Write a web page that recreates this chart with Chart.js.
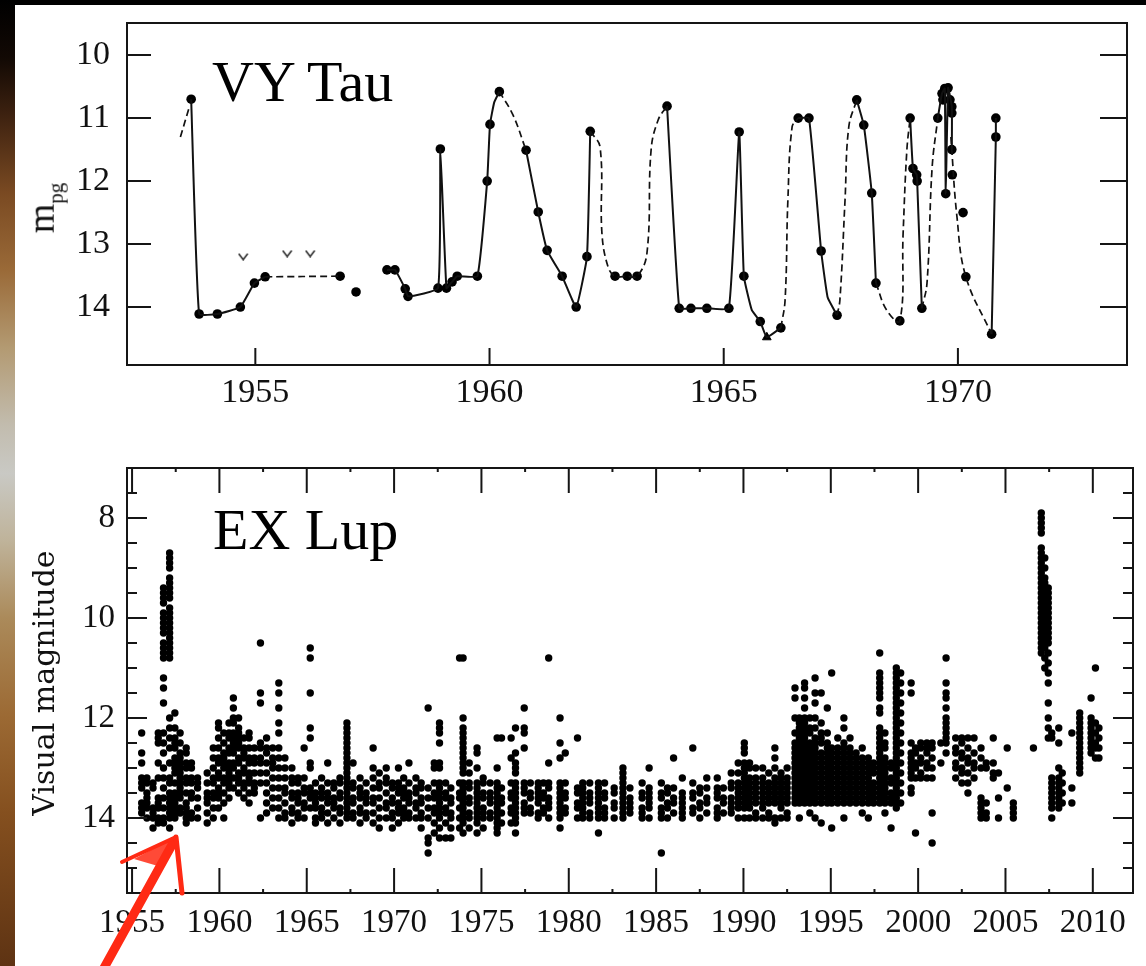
<!DOCTYPE html>
<html>
<head>
<meta charset="utf-8">
<title>VY Tau / EX Lup light curves</title>
<script src="https://cdn.jsdelivr.net/npm/chart.js@4.4.1/dist/chart.umd.min.js"></script>
<style>
  html, body { margin: 0; padding: 0; background: #000; }
  body { width: 1146px; height: 966px; position: relative; overflow: hidden; }
  #strip {
    position: absolute; left: 0; top: 0; width: 15px; height: 966px;
    background: linear-gradient(to bottom, #000 0%, #120904 6%, #3e2210 12%, #7a4a22 20%, #9a6a38 28%,
      #b39a72 36%, #c2bcae 44%, #c9c9c4 49%, #bfb39a 56%, #ab8a5a 64%, #9c6a34 74%, #85501f 84%, #5e3313 100%);
  }
  #paper { position: absolute; left: 15px; top: 5px; width: 1131px; height: 961px; background: #fff; }
  .box { position: absolute; left: 15px; width: 1131px; }
  #topBox { top: 5px; height: 440px; }
  #botBox { top: 450px; height: 516px; }
  .title { position: absolute; font-family: "Liberation Serif", serif; font-size: 58px; line-height: 1; color: #000; }
  .ylab { position: absolute; transform: translate(-50%, -50%) rotate(-90deg); white-space: nowrap; line-height: 1; color: #111; }
  #arrow { position: absolute; left: 0; top: 0; pointer-events: none; }
</style>
</head>
<body>
<div id="strip"></div>
<div id="paper"></div>
<div class="box" id="topBox"><canvas id="vyChart"></canvas></div>
<div class="box" id="botBox"><canvas id="exChart"></canvas></div>

<div class="title" style="left:212px; top:53px;">VY Tau</div>
<div class="title" style="left:213px; top:501px;">EX Lup</div>
<div class="ylab" style="left:44px; top:208px; font-family:'Liberation Serif', serif; font-size:38px;">m<sub style="font-size:21px;">pg</sub></div>
<div class="ylab" style="left:44px; top:683px; font-family:'DejaVu Serif', serif; font-size:30px;">Visual magnitude</div>

<svg id="arrow" width="1146" height="966">
  <polygon points="176,837 134,859 158,866" fill="#ff2a14" opacity="0.85"/>
  <path d="M 104 968 L 173 843" stroke="#ff2a14" stroke-width="9" stroke-linecap="round" fill="none"/>
  <path d="M 176 837 L 122 862" stroke="#ff2a14" stroke-width="4" stroke-linecap="round" fill="none"/>
  <path d="M 176 837 L 182 893" stroke="#ff2a14" stroke-width="5" stroke-linecap="round" fill="none"/>
</svg>

<script>
// ---- VY Tau (top panel) ----
const vyDotYear = [1953.63, 1953.80, 1954.19, 1954.68, 1954.98, 1955.21, 1956.81, 1957.15, 1957.81, 1957.98,
  1958.20, 1958.26, 1958.90, 1958.95, 1959.08, 1959.20, 1959.31, 1959.74, 1959.95, 1960.01,
  1960.21, 1960.78, 1961.04, 1961.23, 1961.55, 1961.85, 1962.08, 1962.15, 1962.68, 1962.94,
  1963.15, 1963.79, 1964.05, 1964.30, 1964.64, 1965.11, 1965.33, 1965.43, 1965.78, 1966.22,
  1966.59, 1966.82, 1967.08, 1967.42, 1967.84, 1967.99, 1968.16, 1968.25, 1968.76, 1968.98,
  1969.04, 1969.12, 1969.13, 1969.23, 1969.57, 1969.66, 1969.68, 1969.72, 1969.74, 1969.79,
  1969.83, 1969.87, 1969.87, 1969.87, 1969.88, 1970.11, 1970.17, 1970.72, 1970.81, 1970.81];
const vyDotMag = [10.70, 14.11, 14.11, 14.00, 13.62, 13.52, 13.51, 13.76, 13.41, 13.41,
  13.71, 13.83, 13.70, 11.49, 13.70, 13.60, 13.51, 13.51, 12.00, 11.10,
  10.58, 11.51, 12.49, 13.10, 13.51, 14.00, 13.20, 11.21, 13.51, 13.51,
  13.51, 10.81, 14.02, 14.02, 14.02, 14.02, 11.22, 13.51, 14.23, 14.33,
  11.00, 11.00, 13.11, 14.13, 10.71, 11.11, 12.19, 13.62, 14.22, 11.00,
  11.80, 11.90, 12.00, 14.02, 11.00, 10.61, 10.71, 10.53, 12.20, 10.52,
  10.71, 10.82, 10.92, 11.50, 11.90, 12.50, 13.52, 14.43, 11.30, 11.00];

// solid connecting curve (null = break)
const vySolidYear = [1953.63, 1953.80, 1954.19, 1954.68, 1954.98, 1955.21, null,
  1957.81, 1957.98, 1958.20, 1958.26, 1958.90, 1958.95, 1959.08, 1959.20, 1959.31, 1959.74, 1959.95, 1960.01, 1960.10, 1960.21, null,
  1960.78, 1961.04, 1961.23, 1961.55, 1961.85, 1962.08, 1962.15, null,
  1963.79, 1964.05, 1964.30, 1964.64, 1965.11, 1965.33, 1965.43, 1965.60, 1965.78, 1965.92, 1966.22, null,
  1966.59, 1966.82, 1967.08, 1967.22, 1967.42, null,
  1967.84, 1967.99, 1968.16, 1968.25, null,
  1968.98, 1969.04, 1969.12, 1969.13, 1969.23, null,
  1969.57, 1969.66, 1969.72, 1969.74, 1969.79, 1969.87, 1969.87, null,
  1970.72, 1970.81, 1970.81];
const vySolidMag = [10.70, 14.11, 14.11, 14.00, 13.62, 13.52, null,
  13.41, 13.41, 13.71, 13.83, 13.70, 11.49, 13.70, 13.60, 13.51, 13.51, 12.00, 11.10, 10.75, 10.58, null,
  11.51, 12.49, 13.10, 13.51, 14.00, 13.20, 11.21, null,
  10.81, 14.02, 14.02, 14.02, 14.02, 11.22, 13.51, 14.05, 14.23, 14.48, 14.33, null,
  11.00, 11.00, 13.11, 13.85, 14.13, null,
  10.71, 11.11, 12.19, 13.62, null,
  11.00, 11.80, 11.90, 12.00, 14.02, null,
  11.00, 10.61, 10.53, 12.20, 10.52, 10.82, 11.50, null,
  14.43, 11.30, 11.00];

// dashed (gap-bridging) curve
const vyDashYear = [1953.40, 1953.58, null,
  1955.21, 1956.81, null,
  1960.21, 1960.50, 1960.78, null,
  1962.15, 1962.36, 1962.40, 1962.53, 1962.68, 1962.94, 1963.15, 1963.36, 1963.45, 1963.60, 1963.79, null,
  1966.22, 1966.31, 1966.37, 1966.46, 1966.59, null,
  1967.42, 1967.48, 1967.59, 1967.67, 1967.84, null,
  1968.25, 1968.48, 1968.76, 1968.83, 1968.91, 1968.98, null,
  1969.23, 1969.34, 1969.45, 1969.57, null,
  1969.85, 1969.98, 1970.17, 1970.72];
const vyDashMag = [11.30, 10.85, null,
  13.52, 13.51, null,
  10.58, 10.95, 11.51, null,
  11.21, 11.46, 12.83, 13.36, 13.51, 13.51, 13.51, 13.15, 11.50, 11.03, 10.81, null,
  14.33, 13.89, 12.30, 11.14, 11.00, null,
  14.13, 13.89, 12.30, 11.14, 10.71, null,
  13.62, 14.05, 14.22, 12.83, 11.51, 11.00, null,
  14.02, 13.62, 11.78, 11.00, null,
  11.30, 12.57, 13.52, 14.43];

const vyLimitYear = [1954.74, 1955.68, 1956.17];
const vyLimitMag = [13.20, 13.15, 13.15];
const vyTriYear = [1965.92];
const vyTriMag = [14.48];

const vyXTicks = [1955, 1960, 1965, 1970];
const vyYTicks = [10, 11, 12, 13, 14];

// ---- EX Lup (bottom panel): "year|magnitudes" per observing column ----
const exCols1950s = [
  "1955.55|12.3 12.7 12.9 13.2 13.3 13.4 13.7 13.8 13.9",
  "1955.85|13.2 13.3 13.5 13.6 13.7 13.8 14.0",
  "1956.2|13.3 13.4 13.8 13.9 14.0 14.2",
  "1956.5|12.3 12.4 12.5 12.9 13.2 13.6 13.7 13.8 14.0 14.1",
  "1956.8|9.4 9.5 9.6 9.7 9.9 10.0 10.1 10.2 10.3 10.5 10.6 10.7 10.8 11.2 11.4 11.7 12.3 12.5 12.7 13.0 13.2 13.4 13.6 13.8 14.0 14.1",
  "1957.15|8.7 8.8 8.9 9.0 9.2 9.3 9.4 9.5 9.6 9.8 9.9 10.0 10.1 10.2 10.3 10.4 10.5 10.6 10.7 10.8 12.0 12.2 12.4 12.6 12.9 13.2 13.3 13.5 13.6 13.7 13.8 13.9 14.0 14.2",
  "1957.45|11.9 12.2 12.4 12.5 12.6 12.8 12.9 13.0 13.1 13.3 13.5 13.6 13.7 13.8 13.9 14.0",
  "1957.75|12.3 12.5 12.7 12.8 12.9 13.0 13.1 13.2 13.3 13.4 13.5 13.6 13.8 13.9",
  "1958.1|12.6 12.7 12.9 13.0 13.2 13.3 13.5 13.7 13.8 13.9 14.0 14.1",
  "1958.4|12.9 13.0 13.2 13.3 13.5 13.6 13.9 14.0",
  "1958.75|13.2 13.3 13.4 13.6 13.8 14.0",
  "1959.3|13.1 13.3 13.5 13.6 13.7 13.9 14.1",
  "1959.65|12.6 12.8 13.0 13.2 13.3 13.5 13.6 13.8 14.0",
  "1959.95|12.1 12.2 12.4 12.6 12.8 12.9 13.1 13.2 13.4 13.5 13.6 13.8"
];
const exCols1960s = [
  "1960.25|12.3 12.5 12.7 12.8 12.9 13.0 13.2 13.3 13.5 13.7 14.0",
  "1960.55|12.1 12.3 12.4 12.6 12.7 12.9 13.0 13.1 13.2 13.3 13.4 13.6",
  "1960.8|11.6 11.8 12.0 12.1 12.3 12.4 12.5 12.6 12.7 12.9 13.0 13.2 13.4",
  "1961.1|12.0 12.2 12.3 12.4 12.5 12.6 12.8 12.9 13.1 13.2 13.3 13.5",
  "1961.4|12.4 12.6 12.7 12.8 13.0 13.1 13.3 13.4 13.6",
  "1961.7|12.3 12.4 12.6 12.8 12.9 13.1 13.2 13.3 13.5 13.7",
  "1962.0|12.6 12.8 12.9 13.1 13.3 13.4 13.5",
  "1962.35|10.5 11.5 11.7 12.5 12.6 12.8 12.9 13.1 13.3 14.0",
  "1962.7|12.4 12.6 12.7 12.9 13.1 13.3 13.5 13.7 13.9",
  "1963.05|12.6 12.8 12.9 13.0 13.2 13.4 13.6 13.8",
  "1963.4|11.3 11.5 11.8 12.1 12.3 12.6 12.8 13.0 13.2 13.4 13.6 13.8 14.0",
  "1963.75|12.8 13.0 13.2 13.4 13.5 13.7 13.9 14.0",
  "1964.15|13.0 13.2 13.3 13.5 13.6 13.8 13.9 14.1",
  "1964.5|13.2 13.3 13.5 13.6 13.7 13.9 14.0",
  "1964.85|12.6 13.2 13.4 13.5 13.7 13.8 14.0",
  "1965.2|10.6 10.8 11.5 12.2 12.4 12.9 13.0 13.4 13.5 13.6 13.8",
  "1965.5|13.3 13.5 13.6 13.7 13.8 14.0 14.1",
  "1965.85|13.2 13.4 13.5 13.6 13.8 13.9 14.0",
  "1966.2|12.9 13.3 13.5 13.6 13.7 13.9 14.1",
  "1966.55|13.3 13.4 13.6 13.7 13.8 14.0",
  "1966.9|13.2 13.3 13.5 13.6 13.8 13.9 14.1",
  "1967.3|12.1 12.2 12.3 12.4 12.5 12.6 12.7 12.8 12.9 13.0 13.1 13.2 13.3 13.4 13.5 13.6 13.7 13.8 13.9 14.0",
  "1967.65|12.9 13.3 13.4 13.6 13.7 13.9 14.0",
  "1968.05|13.2 13.4 13.5 13.6 13.8 13.9 14.1",
  "1968.4|13.3 13.5 13.6 13.7 13.9 14.0",
  "1968.8|12.6 13.0 13.2 13.4 13.6 13.7 13.9 14.1",
  "1969.15|13.1 13.3 13.4 13.6 13.8 14.0 14.2",
  "1969.55|13.0 13.2 13.3 13.5 13.7 13.8 14.0",
  "1969.9|13.3 13.4 13.6 13.7 13.9 14.0 14.2"
];
const exCols1970s = [
  "1970.25|13.0 13.3 13.4 13.5 13.7 13.8 13.9 14.1",
  "1970.55|13.2 13.4 13.5 13.6 13.8 13.9 14.0",
  "1970.85|12.9 13.3 13.5 13.6 13.7 13.9 14.0",
  "1971.25|13.2 13.4 13.5 13.7 13.8 14.0",
  "1971.55|13.3 13.4 13.6 13.7 13.9 14.0 14.2",
  "1971.95|11.8 13.4 13.6 13.8 14.0 14.4 14.5 14.7",
  "1972.3|12.9 13.0 13.3 13.5 13.6 13.8 13.9 14.1 14.3",
  "1972.6|12.1 12.2 12.3 12.5 12.9 13.0 13.3 13.4 13.5 13.6 13.7 13.8 13.9 14.0 14.2 14.4",
  "1972.95|13.3 13.5 13.6 13.8 13.9 14.1 14.4",
  "1973.25|13.4 13.6 13.7 13.9 14.0 14.2 14.4",
  "1973.75|10.8 13.3 13.5 13.6 13.8 14.0 14.2",
  "1973.95|10.8 12.0 12.2 12.3 12.4 12.5 12.6 12.7 12.8 12.9 13.0 13.1 13.3 13.4 13.5 13.6 13.7 13.8 13.9 14.0 14.1 14.3",
  "1974.3|12.9 13.1 13.3 13.4 13.6 13.7 13.9 14.0 14.2",
  "1974.75|12.6 12.7 13.0 13.3 13.4 13.5 13.6 13.7 13.8 13.9 14.0 14.1 14.3",
  "1975.1|13.2 13.3 13.5 13.6 13.8 13.9 14.0 14.2",
  "1975.5|13.3 13.5 13.6 13.7 13.9 14.0",
  "1975.9|12.4 13.0 13.3 13.4 13.5 13.6 13.7 13.8 13.9 14.0 14.1 14.2 14.3",
  "1976.15|12.4 13.4 13.6 13.7 13.9 14.1",
  "1976.7|12.4 12.8 13.3 13.5 13.6 13.8 13.9 14.1",
  "1976.95|12.2 12.7 12.9 13.0 13.1 13.3 13.4 13.5 13.6 13.7 13.8 13.9 14.0 14.1 14.3",
  "1977.45|11.8 12.2 12.3 12.6 13.3 13.4 13.5 13.7 13.8 13.9",
  "1977.8|13.3 13.5 13.6 13.8 13.9",
  "1978.25|13.3 13.4 13.5 13.6 13.7 13.9 14.0",
  "1978.55|13.3 13.5 13.6 13.8 13.9",
  "1978.85|10.8 12.9 13.3 13.4 13.6 13.7 13.8 14.0",
  "1979.5|12.0 12.5 12.8 13.3 13.4 13.5 13.6 13.7 13.8 13.9 14.0 14.2",
  "1979.8|12.7 13.3 13.5 13.6 13.8 13.9"
];
const exCols1980s = [
  "1980.5|12.4 13.4 13.5 13.7 13.8 14.0",
  "1980.8|13.3 13.4 13.5 13.6 13.7 13.8 13.9 14.0",
  "1981.2|13.3 13.5 13.6 13.7 13.9 14.0",
  "1981.7|13.3 13.4 13.5 13.6 13.7 13.8 13.9 14.0 14.3",
  "1982.05|13.3 13.5 13.6 13.8 13.9 14.0",
  "1982.6|13.4 13.5 13.7 13.8 14.0",
  "1983.1|13.0 13.1 13.2 13.3 13.4 13.5 13.6 13.7 13.8 13.9 14.0",
  "1983.5|13.4 13.6 13.7 13.8 13.9",
  "1984.2|13.3 13.5 13.6 13.8 13.9 14.0",
  "1984.6|13.0 13.4 13.5 13.6 13.7 13.8 14.0",
  "1985.3|13.3 13.5 13.6 13.8 13.9 14.0 14.7",
  "1985.65|13.4 13.5 13.7 13.8 14.0",
  "1986.0|12.8 13.4 13.6 13.7 13.9",
  "1986.5|13.2 13.5 13.6 13.7 13.8 13.9 14.0",
  "1987.1|12.6 13.3 13.5 13.6 13.8 13.9",
  "1987.5|13.4 13.5 13.7 13.8 14.0",
  "1987.9|13.2 13.4 13.6 13.7 13.9",
  "1988.5|13.2 13.4 13.5 13.6 13.8 13.9 14.0",
  "1988.85|13.4 13.6 13.7 13.9",
  "1989.3|13.1 13.3 13.4 13.6 13.7 13.8 13.9",
  "1989.7|12.9 13.1 13.3 13.4 13.5 13.6 13.7 13.8 14.0"
];
const exCols1990s = [
  "1990.05|12.5 12.6 12.7 12.9 13.0 13.1 13.2 13.3 13.4 13.5 13.6 13.7 13.8 14.0",
  "1990.35|12.9 13.0 13.2 13.3 13.4 13.5 13.6 13.7 13.8 14.0",
  "1990.7|13.0 13.2 13.3 13.4 13.5 13.6 13.7 13.9 14.0",
  "1991.1|13.0 13.2 13.3 13.4 13.5 13.6 13.7 13.8 14.0",
  "1991.45|13.1 13.3 13.4 13.5 13.6 13.7 13.9 14.0",
  "1991.8|12.6 12.8 13.0 13.2 13.3 13.4 13.5 13.6 13.7 14.0 14.1",
  "1992.15|13.1 13.2 13.3 13.4 13.5 13.6 13.7 13.8 14.0",
  "1992.5|13.0 13.2 13.3 13.4 13.5 13.6 13.7 13.9 14.0",
  "1992.95|11.4 11.6 12.0 12.3 12.5 12.6 12.7 12.8 12.9 13.0 13.1 13.2 13.3 13.4 13.5 13.6 13.7",
  "1993.2|12.0 12.1 12.2 12.3 12.4 12.5 12.6 12.7 12.8 12.9 13.0 13.1 13.2 13.3 13.4 13.5 13.6 13.7 14.0",
  "1993.5|11.3 11.4 11.6 11.8 12.0 12.1 12.2 12.3 12.4 12.5 12.6 12.7 12.8 12.9 13.0 13.1 13.2 13.3 13.4 13.5 13.6 13.7",
  "1993.8|12.0 12.2 12.3 12.5 12.6 12.7 12.8 12.9 13.0 13.1 13.2 13.3 13.4 13.5 13.6 13.7 13.9",
  "1994.1|11.2 11.5 11.7 12.0 12.2 12.4 12.5 12.6 12.7 12.8 12.9 13.0 13.1 13.2 13.3 13.4 13.5 13.6 13.7 14.0",
  "1994.45|11.5 12.1 12.3 12.4 12.5 12.7 12.8 12.9 13.0 13.1 13.2 13.3 13.4 13.5 13.6 13.7 14.1",
  "1994.8|11.8 12.3 12.5 12.6 12.7 12.8 12.9 13.0 13.1 13.2 13.3 13.4 13.5 13.6 13.7",
  "1995.05|11.1 12.6 12.7 12.8 12.9 13.0 13.1 13.2 13.3 13.4 13.5 13.6 13.7 14.2",
  "1995.4|12.4 12.6 12.7 12.8 12.9 13.0 13.1 13.2 13.3 13.4 13.5 13.6 13.7",
  "1995.75|12.0 12.2 12.5 12.6 12.7 12.8 12.9 13.0 13.1 13.2 13.3 13.4 13.5 13.6 13.7 14.0",
  "1996.1|12.4 12.6 12.7 12.8 12.9 13.0 13.1 13.2 13.3 13.4 13.5 13.6 13.7",
  "1996.45|12.7 12.8 12.9 13.0 13.1 13.2 13.3 13.4 13.5 13.6 13.7",
  "1996.8|12.6 12.8 12.9 13.0 13.1 13.2 13.3 13.4 13.5 13.6 13.7 13.9",
  "1997.15|12.8 12.9 13.0 13.1 13.2 13.3 13.4 13.5 13.6 13.7 14.0",
  "1997.45|12.9 13.0 13.1 13.3 13.4 13.5 13.6 13.7",
  "1997.8|10.7 11.1 11.2 11.3 11.4 11.5 11.6 11.8 11.9 12.2 12.3 12.4 12.5 12.6 12.7 12.8 12.9 13.0 13.1 13.2 13.3 13.4 13.5 13.6 13.7",
  "1998.1|12.3 12.5 12.6 12.8 12.9 13.0 13.1 13.2 13.3 13.4 13.5 13.6 13.7 13.9",
  "1998.45|12.9 13.0 13.2 13.3 13.5 13.6 13.7 14.2",
  "1998.75|11.0 11.1 11.2 11.3 11.4 11.5 11.6 11.7 11.8 11.9 12.0 12.1 12.2 12.3 12.4 12.5 12.6 12.7 12.8 12.9 13.0 13.1 13.2 13.3 13.4 13.5 13.6 13.7 13.8",
  "1999.0|11.1 11.3 11.5 11.7 11.9 12.1 12.3 12.5 12.7 12.9 13.1 13.3 13.5 13.7",
  "1999.6|11.3 11.5 12.5 12.7 12.8 12.9 13.0 13.1 13.2 13.4 13.5",
  "1999.85|12.6 12.7 12.9 13.0 13.2 14.3"
];
const exCols2000s = [
  "2000.15|12.5 12.6 12.8 12.9 13.1 13.2",
  "2000.5|12.5 12.6 12.7 12.9 13.0 13.2",
  "2000.8|12.5 12.6 12.8 13.0 13.2 13.9 14.5",
  "2001.3|12.5 12.9",
  "2001.6|10.8 11.3 11.5 11.6 11.8 12.0 12.1 12.2 12.3 12.4 12.5 12.7",
  "2002.15|12.4 12.6 12.7 12.9 13.0 13.2",
  "2002.5|12.4 12.5 12.7 12.8 13.0 13.1 13.3",
  "2002.85|12.4 12.6 12.8 12.9 13.1 13.3 13.5",
  "2003.2|12.4 12.7 12.9 13.0 13.2",
  "2003.6|12.6 12.8 13.0 13.6 13.7 13.8 13.9 14.0",
  "2003.9|12.9 13.0 13.7 13.9 14.0",
  "2004.3|12.4 12.9 13.1 13.2",
  "2004.6|13.1 13.6 14.0",
  "2005.1|12.6 13.4",
  "2005.45|13.7 13.8 13.9 14.0",
  "2006.6|12.6",
  "2007.05|7.9 8.0 8.1 8.2 8.3 8.6 8.7 8.8 8.9 9.0 9.1 9.2 9.3 9.4 9.5 9.6 9.7 9.8 9.9 10.0 10.1 10.2 10.3 10.4 10.5 10.6 10.7",
  "2007.25|8.8 9.0 9.2 9.3 9.4 9.5 9.6 9.7 9.8 9.9 10.0 10.1 10.2 10.3 10.4 10.5 10.6 10.8 11.0",
  "2007.45|9.4 9.5 9.6 9.7 9.8 9.9 10.0 10.1 10.2 10.3 10.4 10.5 10.7 10.9 11.1 11.3 11.7 12.0 12.2 12.4",
  "2007.65|12.3 12.4 13.2 13.3 13.4 13.5 13.6 13.7 13.8 14.0",
  "2008.05|12.2 12.5 13.0 13.2 13.3 13.4 13.5 13.6 13.7 13.8",
  "2008.25|13.1 13.3 13.5 13.7",
  "2008.8|12.3 13.4 13.7",
  "2009.25|11.9 12.0 12.1 12.2 12.3 12.4 12.5 12.6 12.7 12.8 12.9 13.0 13.1",
  "2009.9|11.6 12.0 12.1 12.2 12.3 12.4 12.5 12.6 12.7",
  "2010.15|11.0 12.1 12.3 12.5 12.6 12.8",
  "2010.35|12.2 12.4 12.6 12.8"
];

const exXMajor = [1955, 1960, 1965, 1970, 1975, 1980, 1985, 1990, 1995, 2000, 2005, 2010];
const exXMinor = [1957.5, 1962.5, 1967.5, 1972.5, 1977.5, 1982.5, 1987.5, 1992.5, 1997.5, 2002.5, 2007.5];
const exYMajor = [8, 10, 12, 14];
const exYMinor = [7.5, 8.5, 9, 9.5, 10.5, 11, 11.5, 12.5, 13, 13.5, 14.5, 15];

// ---- helpers ----
function zip(xs, ys) {
  return xs.map((x, i) => ({ x: x, y: ys[i] }));
}

function columnsToPoints(cols) {
  const pts = [];
  cols.forEach(c => {
    const [yr, mags] = c.split("|");
    mags.split(" ").forEach(m => pts.push({ x: Number(yr), y: Number(m) }));
  });
  return pts;
}

function vMarker() {
  const c = document.createElement("canvas");
  c.width = 11;
  c.height = 8;
  const g = c.getContext("2d");
  g.strokeStyle = "#111";
  g.lineWidth = 1.3;
  g.beginPath();
  g.moveTo(1, 1);
  g.lineTo(5.5, 7);
  g.lineTo(10, 1);
  g.stroke();
  return c;
}

// frame box plus inward tick marks
function makeFrame(cfg) {
  return {
    id: "frame",
    afterDraw(chart) {
      const ctx = chart.ctx;
      const a = chart.chartArea;
      const sx = chart.scales.x;
      const sy = chart.scales.y;
      ctx.save();
      ctx.strokeStyle = "#151515";
      ctx.lineWidth = 2;
      ctx.strokeRect(a.left, a.top, a.right - a.left, a.bottom - a.top);
      ctx.beginPath();
      cfg.x.forEach(t => {
        t.values.forEach(v => {
          const px = sx.getPixelForValue(v);
          if (t.bottom) { ctx.moveTo(px, a.bottom); ctx.lineTo(px, a.bottom - t.bottom); }
          if (t.top) { ctx.moveTo(px, a.top); ctx.lineTo(px, a.top + t.top); }
        });
      });
      cfg.y.forEach(t => {
        t.values.forEach(v => {
          const py = sy.getPixelForValue(v);
          if (t.left) { ctx.moveTo(a.left, py); ctx.lineTo(a.left + t.left, py); }
          if (t.right) { ctx.moveTo(a.right, py); ctx.lineTo(a.right - t.right, py); }
        });
      });
      ctx.stroke();
      ctx.restore();
    }
  };
}

function axisOpts(min, max, reverse, tickValues, fontSize, padding, fitSize) {
  return {
    type: "linear",
    min: min,
    max: max,
    reverse: reverse,
    grid: { display: false, drawTicks: false },
    border: { display: false },
    afterBuildTicks: axis => { axis.ticks = tickValues.map(v => ({ value: v })); },
    afterFit: axis => {
      if (axis.isHorizontal()) axis.height = fitSize; else axis.width = fitSize;
      // labels never reach the ends, so no extra room is needed
      axis.paddingTop = 0;
      axis.paddingBottom = 0;
      axis.paddingLeft = 0;
      axis.paddingRight = 0;
    },
    ticks: {
      color: "#111",
      padding: padding,
      font: { family: "'Liberation Serif', serif", size: fontSize },
      callback: v => String(v)
    }
  };
}

const baseOptions = {
  responsive: true,
  maintainAspectRatio: false,
  animation: false,
  events: [],
  plugins: { legend: { display: false }, tooltip: { enabled: false } }
};

function initCharts() {
  new Chart(document.getElementById("vyChart").getContext("2d"), {
    type: "scatter",
    data: {
      datasets: [
        {
          data: zip(vyDashYear, vyDashMag),
          showLine: true, borderColor: "#111", borderWidth: 1.7, borderDash: [7, 4],
          tension: 0.4, pointRadius: 0, spanGaps: false
        },
        {
          data: zip(vySolidYear, vySolidMag),
          showLine: true, borderColor: "#111", borderWidth: 2,
          tension: 0.12, pointRadius: 0, spanGaps: false
        },
        {
          data: zip(vyDotYear, vyDotMag),
          pointRadius: 4.8, pointBackgroundColor: "#000", pointBorderWidth: 0
        },
        {
          data: zip(vyLimitYear, vyLimitMag),
          pointStyle: vMarker(), pointRadius: 5
        },
        {
          data: zip(vyTriYear, vyTriMag),
          pointStyle: "triangle", pointRadius: 5, pointBackgroundColor: "#000", pointBorderColor: "#000"
        }
      ]
    },
    options: Object.assign({}, baseOptions, {
      layout: { padding: { left: 0, right: 19, top: 18, bottom: 0 } },
      scales: {
        x: axisOpts(1952.26, 1973.61, false, vyXTicks, 34, 8, 80),
        y: axisOpts(9.49, 14.92, true, vyYTicks, 34, 17, 112)
      }
    }),
    plugins: [makeFrame({
      x: [{ values: vyXTicks, bottom: 17 }],
      y: [{ values: vyYTicks, left: 24, right: 27 }]
    })]
  });

  const exPoints = [].concat(
    columnsToPoints(exCols1950s), columnsToPoints(exCols1960s), columnsToPoints(exCols1970s),
    columnsToPoints(exCols1980s), columnsToPoints(exCols1990s), columnsToPoints(exCols2000s)
  );

  new Chart(document.getElementById("exChart").getContext("2d"), {
    type: "scatter",
    data: {
      datasets: [{
        data: exPoints,
        pointRadius: 3.7, pointBackgroundColor: "#000", pointBorderWidth: 0
      }]
    },
    options: Object.assign({}, baseOptions, {
      layout: { padding: { left: 0, right: 13, top: 18, bottom: 0 } },
      scales: {
        x: axisOpts(1954.71, 2012.3, false, exXMajor, 33, 11, 73),
        y: axisOpts(7, 15.5, true, exYMajor, 33, 12, 112)
      }
    }),
    plugins: [makeFrame({
      x: [{ values: exXMajor, top: 25, bottom: 25 }, { values: exXMinor, top: 4, bottom: 4 }],
      y: [{ values: exYMajor, left: 20, right: 20 }, { values: exYMinor, left: 10, right: 10 }]
    })]
  });
}

window.onload = initCharts;
</script>
</body>
</html>
